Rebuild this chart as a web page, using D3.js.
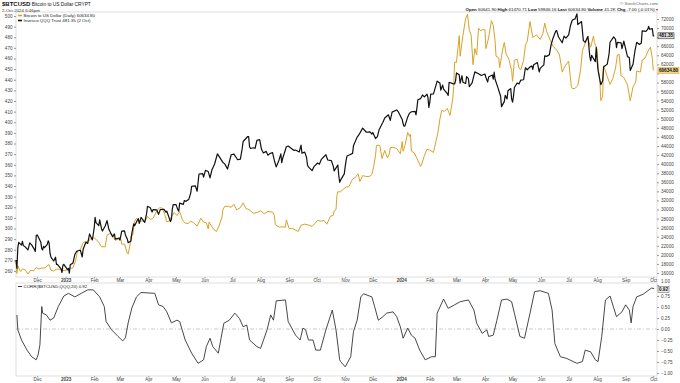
<!DOCTYPE html>
<html>
<head>
<meta charset="utf-8">
<style>
  body { margin: 0; background: #fff; }
  svg text { font-family: "Liberation Sans", Arial, sans-serif; }
  .axis .domain { display: none; }
  .axis line { stroke: #999; }
  .axis text { fill: #444; font-size: 4.6px; }
</style>
</head>
<body>
<svg width="680" height="383"></svg>
<script src="https://d3js.org/d3.v7.min.js"></script>
<script>
  // Bitcoin (gold, right scale) daily closes
  var btcData = [
    ["2022-11-08",18540],["2022-11-09",15880],["2022-11-10",17590],["2022-11-11",17030],["2022-11-13",16330],["2022-11-15",16900],["2022-11-18",16700],["2022-11-21",15780],["2022-11-24",16600],["2022-11-27",16460],["2022-11-30",17165],["2022-12-03",16890],["2022-12-06",17090],["2022-12-10",17130],["2022-12-13",17780],["2022-12-14",17810],["2022-12-16",16630],["2022-12-19",16440],["2022-12-22",16830],["2022-12-25",16840],["2022-12-28",16550],["2022-12-31",16540],
    ["2023-01-03",16680],["2023-01-06",16950],["2023-01-09",17190],["2023-01-12",18870],["2023-01-14",20950],["2023-01-17",21140],["2023-01-20",22700],["2023-01-23",22930],["2023-01-26",23060],["2023-01-29",23740],["2023-02-01",23730],["2023-02-03",23430],["2023-02-06",22760],["2023-02-09",21800],["2023-02-13",21780],["2023-02-15",24330],["2023-02-18",24640],["2023-02-21",24440],["2023-02-24",23170],["2023-02-27",23490],["2023-03-02",23470],["2023-03-03",22360],["2023-03-06",22410],["2023-03-09",20360],["2023-03-10",20190],["2023-03-12",22160],["2023-03-13",24200],["2023-03-15",24380],["2023-03-17",27400],["2023-03-19",28040],["2023-03-22",27280],["2023-03-25",27490],["2023-03-28",27270],["2023-03-31",28480],["2023-04-03",27800],["2023-04-06",28030],["2023-04-10",29650],["2023-04-13",30400],["2023-04-16",30320],["2023-04-19",28820],["2023-04-21",27270],["2023-04-24",27520],["2023-04-26",28420],["2023-04-29",29340],["2023-05-02",28680],["2023-05-05",29540],["2023-05-08",27700],["2023-05-11",26990],["2023-05-14",26920],["2023-05-17",27400],["2023-05-20",27120],["2023-05-24",26330],["2023-05-28",28070],["2023-05-31",27220],["2023-06-03",27070],["2023-06-05",25750],["2023-06-06",27240],["2023-06-10",25840],["2023-06-14",25120],["2023-06-17",26510],["2023-06-20",28310],["2023-06-21",30000],["2023-06-23",30690],["2023-06-27",30690],["2023-06-30",30480],["2023-07-03",31150],["2023-07-06",29910],["2023-07-10",30410],["2023-07-13",31470],["2023-07-16",30250],["2023-07-20",29900],["2023-07-24",29180],["2023-07-28",29320],["2023-08-01",29700],["2023-08-05",29050],["2023-08-09",29570],["2023-08-14",29410],["2023-08-16",28700],["2023-08-17",26660],["2023-08-21",26130],["2023-08-25",26170],["2023-08-28",26100],["2023-08-29",27720],["2023-09-01",25800],["2023-09-05",25780],["2023-09-11",25160],["2023-09-14",26530],["2023-09-18",26760],["2023-09-22",26580],["2023-09-26",26300],["2023-09-29",26910],["2023-10-02",27600],["2023-10-05",27430],["2023-10-09",27590],["2023-10-12",26760],["2023-10-16",28520],["2023-10-19",28710],["2023-10-20",29680],["2023-10-22",29990],["2023-10-23",33090],["2023-10-24",33900],["2023-10-27",33910],["2023-10-30",34500],["2023-11-02",34940],["2023-11-05",35040],["2023-11-09",36700],["2023-11-12",37060],["2023-11-15",37880],["2023-11-17",36160],["2023-11-20",37480],["2023-11-23",37300],["2023-11-27",37250],["2023-11-30",37720],["2023-12-02",39460],["2023-12-04",41980],["2023-12-05",44100],["2023-12-08",44200],["2023-12-09",43780],["2023-12-11",41250],["2023-12-14",43030],["2023-12-17",41370],["2023-12-19",42260],["2023-12-20",43650],["2023-12-23",43720],["2023-12-27",43440],["2023-12-31",42270],
    ["2024-01-02",44980],["2024-01-03",42850],["2024-01-05",44150],["2024-01-08",46970],["2024-01-10",46110],["2024-01-11",46630],["2024-01-12",42850],["2024-01-15",42510],["2024-01-18",41280],["2024-01-22",39510],["2024-01-23",39850],["2024-01-26",41820],["2024-01-29",43300],["2024-02-01",43080],["2024-02-05",42580],["2024-02-08",45300],["2024-02-10",47130],["2024-02-12",49960],["2024-02-14",51840],["2024-02-17",51650],["2024-02-20",52280],["2024-02-23",50730],["2024-02-26",54520],["2024-02-27",57050],["2024-02-28",62500],["2024-03-01",62440],["2024-03-04",68330],["2024-03-05",63800],["2024-03-08",68300],["2024-03-11",72120],["2024-03-13",73080],["2024-03-15",69500],["2024-03-17",68390],["2024-03-19",61930],["2024-03-21",65490],["2024-03-23",64050],["2024-03-25",69960],["2024-03-27",69460],["2024-03-30",69650],["2024-04-01",69650],["2024-04-02",65470],["2024-04-05",67840],["2024-04-08",71630],["2024-04-10",70600],["2024-04-12",67170],["2024-04-13",63820],["2024-04-16",63430],["2024-04-17",61280],["2024-04-20",64940],["2024-04-22",66840],["2024-04-24",64290],["2024-04-27",63120],["2024-04-30",60650],["2024-05-01",58250],["2024-05-03",62900],["2024-05-06",63100],["2024-05-08",61200],["2024-05-10",60800],["2024-05-13",62900],["2024-05-15",66270],["2024-05-17",67050],["2024-05-20",71430],["2024-05-23",67930],["2024-05-27",68500],["2024-05-31",67500],["2024-06-03",68800],["2024-06-05",71100],["2024-06-07",69300],["2024-06-11",67300],["2024-06-14",66000],["2024-06-18",65150],["2024-06-21",64100],["2024-06-24",60280],["2024-06-27",61600],["2024-07-01",62700],["2024-07-04",57000],["2024-07-05",56660],["2024-07-08",56700],["2024-07-11",57340],["2024-07-14",60780],["2024-07-16",65050],["2024-07-20",67140],["2024-07-22",67580],["2024-07-25",65800],["2024-07-28",68250],["2024-07-29",66800],["2024-08-01",65350],["2024-08-02",61500],["2024-08-04",58100],["2024-08-05",54000],["2024-08-07",55000],["2024-08-08",61700],["2024-08-12",59350],["2024-08-15",57560],["2024-08-18",58900],["2024-08-21",61170],["2024-08-23",64060],["2024-08-25",64200],["2024-08-27",59500],["2024-08-30",59100],["2024-09-03",57480],["2024-09-06",53950],["2024-09-09",57020],["2024-09-12",58130],["2024-09-13",60540],["2024-09-17",60300],["2024-09-19",62950],["2024-09-22",63350],["2024-09-26",65180],["2024-09-28",65800],["2024-09-30",63330],["2024-10-01",60800],["2024-10-02",60635]
  ];

  // Invesco QQQ Trust (black, left scale)
  var qqqData = [
    ["2022-11-08",270.4],["2022-11-09",262.6],["2022-11-10",282.0],["2022-11-11",287.0],["2022-11-14",284.3],["2022-11-15",288.0],["2022-11-16",283.9],["2022-11-18",282.7],["2022-11-21",279.9],["2022-11-23",286.5],["2022-11-25",284.6],["2022-11-28",280.3],["2022-11-29",278.4],["2022-11-30",293.4],["2022-12-01",294.0],["2022-12-02",292.5],["2022-12-05",287.0],["2022-12-06",281.1],["2022-12-07",279.8],["2022-12-08",283.2],["2022-12-09",281.9],["2022-12-12",285.0],["2022-12-13",288.4],["2022-12-14",286.3],["2022-12-15",276.7],["2022-12-16",273.0],["2022-12-19",269.4],["2022-12-21",273.0],["2022-12-22",266.1],["2022-12-23",266.3],["2022-12-27",262.0],["2022-12-28",258.6],["2022-12-29",265.4],["2022-12-30",266.3],
    ["2023-01-03",261.3],["2023-01-04",262.5],["2023-01-05",258.0],["2023-01-06",265.8],["2023-01-09",267.6],["2023-01-11",275.6],["2023-01-13",278.6],["2023-01-17",279.5],["2023-01-19",273.2],["2023-01-20",280.4],["2023-01-23",287.0],["2023-01-25",286.0],["2023-01-27",294.9],["2023-01-30",289.2],["2023-01-31",294.6],["2023-02-01",300.3],["2023-02-02",310.6],["2023-02-03",305.6],["2023-02-06",302.7],["2023-02-07",308.2],["2023-02-09",299.8],["2023-02-10",297.6],["2023-02-13",302.3],["2023-02-15",307.4],["2023-02-17",299.2],["2023-02-21",292.2],["2023-02-23",294.9],["2023-02-24",290.0],["2023-02-28",291.1],["2023-03-01",289.1],["2023-03-03",297.5],["2023-03-06",297.8],["2023-03-07",293.9],["2023-03-09",290.2],["2023-03-10",286.6],["2023-03-13",288.2],["2023-03-14",295.6],["2023-03-16",304.4],["2023-03-17",302.6],["2023-03-21",309.4],["2023-03-22",304.7],["2023-03-24",310.4],["2023-03-28",305.8],["2023-03-30",314.0],["2023-03-31",320.9],["2023-04-03",319.6],["2023-04-05",315.5],["2023-04-06",317.7],["2023-04-10",317.6],["2023-04-12",313.3],["2023-04-14",317.9],["2023-04-18",318.0],["2023-04-20",315.4],["2023-04-21",316.3],["2023-04-25",306.5],["2023-04-26",308.6],["2023-04-27",318.3],["2023-04-28",322.6],["2023-05-01",322.5],["2023-05-03",317.8],["2023-05-04",316.3],["2023-05-05",323.9],["2023-05-09",322.7],["2023-05-10",326.3],["2023-05-12",325.6],["2023-05-15",327.6],["2023-05-17",333.3],["2023-05-18",339.7],["2023-05-22",340.2],["2023-05-24",335.1],["2023-05-26",351.3],["2023-05-30",351.6],["2023-05-31",348.4],["2023-06-02",354.7],["2023-06-05",353.7],["2023-06-07",347.6],["2023-06-09",355.0],["2023-06-12",360.7],["2023-06-15",370.2],["2023-06-16",369.0],["2023-06-21",362.2],["2023-06-23",360.8],["2023-06-26",356.0],["2023-06-28",362.7],["2023-06-30",369.4],["2023-07-03",370.0],["2023-07-06",366.1],["2023-07-07",364.7],["2023-07-10",365.3],["2023-07-12",375.3],["2023-07-13",381.9],["2023-07-18",386.6],["2023-07-19",386.5],["2023-07-20",377.0],["2023-07-21",375.3],["2023-07-24",376.0],["2023-07-26",375.5],["2023-07-28",383.0],["2023-07-31",383.7],["2023-08-02",374.5],["2023-08-04",371.1],["2023-08-07",372.6],["2023-08-09",369.0],["2023-08-11",370.5],["2023-08-14",371.5],["2023-08-16",363.8],["2023-08-18",358.0],["2023-08-21",364.3],["2023-08-23",370.3],["2023-08-24",362.0],["2023-08-25",365.9],["2023-08-29",376.9],["2023-08-31",377.6],["2023-09-06",373.6],["2023-09-08",373.8],["2023-09-12",372.0],["2023-09-14",378.4],["2023-09-15",371.0],["2023-09-18",371.9],["2023-09-20",366.8],["2023-09-21",359.7],["2023-09-22",358.0],["2023-09-26",354.4],["2023-09-28",358.2],["2023-10-02",361.6],["2023-10-04",360.6],["2023-10-06",365.0],["2023-10-11",369.4],["2023-10-13",364.5],["2023-10-17",363.8],["2023-10-19",358.7],["2023-10-20",354.2],["2023-10-24",359.7],["2023-10-25",350.0],["2023-10-26",343.5],["2023-10-27",345.5],["2023-10-31",351.4],["2023-11-01",358.2],["2023-11-02",364.1],["2023-11-03",368.3],["2023-11-06",369.4],["2023-11-09",370.7],["2023-11-10",377.8],["2023-11-14",386.0],["2023-11-16",388.3],["2023-11-20",394.5],["2023-11-24",390.6],["2023-11-28",391.0],["2023-11-30",388.8],["2023-12-01",390.4],["2023-12-04",384.6],["2023-12-06",386.4],["2023-12-08",393.2],["2023-12-12",400.0],["2023-12-14",404.0],["2023-12-18",407.0],["2023-12-20",401.8],["2023-12-22",409.5],["2023-12-27",411.6],["2023-12-29",409.5],
    ["2024-01-02",402.6],["2024-01-03",398.5],["2024-01-04",396.3],["2024-01-05",396.6],["2024-01-08",405.0],["2024-01-10",408.6],["2024-01-12",409.9],["2024-01-16",410.2],["2024-01-17",407.0],["2024-01-18",413.6],["2024-01-19",421.2],["2024-01-22",422.2],["2024-01-24",425.7],["2024-01-26",423.8],["2024-01-29",426.5],["2024-01-30",423.2],["2024-01-31",414.0],["2024-02-01",419.0],["2024-02-02",426.5],["2024-02-05",426.7],["2024-02-07",432.6],["2024-02-09",438.7],["2024-02-12",437.0],["2024-02-13",430.2],["2024-02-15",435.0],["2024-02-16",431.2],["2024-02-20",427.0],["2024-02-21",425.3],["2024-02-22",437.6],["2024-02-26",436.3],["2024-02-28",436.0],["2024-02-29",439.0],["2024-03-01",446.4],["2024-03-04",444.6],["2024-03-05",436.8],["2024-03-07",443.8],["2024-03-08",437.7],["2024-03-11",436.5],["2024-03-12",442.9],["2024-03-14",441.0],["2024-03-15",433.4],["2024-03-18",437.0],["2024-03-20",444.1],["2024-03-21",447.4],["2024-03-25",445.6],["2024-03-28",444.0],["2024-04-01",445.4],["2024-04-02",442.1],["2024-04-04",437.9],["2024-04-05",442.6],["2024-04-09",444.5],["2024-04-10",440.5],["2024-04-11",447.1],["2024-04-12",440.5],["2024-04-15",432.8],["2024-04-17",427.3],["2024-04-18",424.7],["2024-04-19",414.7],["2024-04-22",419.4],["2024-04-23",425.3],["2024-04-25",422.0],["2024-04-26",429.7],["2024-04-29",431.7],["2024-04-30",422.0],["2024-05-01",418.9],["2024-05-02",424.4],["2024-05-03",432.7],["2024-05-06",437.0],["2024-05-08",436.0],["2024-05-10",439.7],["2024-05-13",440.0],["2024-05-15",451.3],["2024-05-17",449.4],["2024-05-20",452.1],["2024-05-22",453.0],["2024-05-23",449.8],["2024-05-24",454.2],["2024-05-28",456.2],["2024-05-30",447.3],["2024-05-31",450.7],["2024-06-04",454.0],["2024-06-05",462.6],["2024-06-07",462.0],["2024-06-10",463.5],["2024-06-12",473.2],["2024-06-14",479.1],["2024-06-17",485.8],["2024-06-18",486.2],["2024-06-20",480.2],["2024-06-24",474.8],["2024-06-26",481.0],["2024-06-28",479.1],["2024-07-01",482.3],["2024-07-03",491.0],["2024-07-05",496.2],["2024-07-08",497.3],["2024-07-10",502.0],["2024-07-11",491.9],["2024-07-15",494.8],["2024-07-17",476.8],["2024-07-19",475.2],["2024-07-22",480.9],["2024-07-24",462.0],["2024-07-25",457.7],["2024-07-26",462.9],["2024-07-30",457.0],["2024-07-31",470.4],["2024-08-01",458.5],["2024-08-02",448.8],["2024-08-05",435.3],["2024-08-07",439.0],["2024-08-08",452.0],["2024-08-12",454.7],["2024-08-14",464.6],["2024-08-15",475.3],["2024-08-19",480.3],["2024-08-21",478.0],["2024-08-22",470.3],["2024-08-23",475.2],["2024-08-27",474.8],["2024-08-28",469.2],["2024-08-30",476.3],["2024-09-03",461.8],["2024-09-05",461.0],["2024-09-06",448.7],["2024-09-09",454.6],["2024-09-11",466.6],["2024-09-13",475.3],["2024-09-16",473.2],["2024-09-18",474.5],["2024-09-19",486.0],["2024-09-23",485.5],["2024-09-25",487.4],["2024-09-26",490.3],["2024-09-27",487.5],["2024-09-30",488.1],["2024-10-01",481.3],["2024-10-02",481.35]
  ];

  // CORR($BTCUSD,QQQ,20)
  var corrData = [
    ["2022-11-09",0.32],["2022-11-10",-0.02],["2022-11-14",-0.25],["2022-11-20",-0.48],["2022-11-25",-0.63],["2022-11-30",-0.70],["2022-12-02",-0.59],["2022-12-04",-0.36],["2022-12-06",0.51],["2022-12-07",0.36],["2022-12-11",0.32],["2022-12-15",0.20],["2022-12-19",0.25],["2022-12-24",0.51],["2022-12-30",0.75],
    ["2023-01-04",0.81],["2023-01-11",0.73],["2023-01-18",0.81],["2023-01-25",0.89],["2023-01-31",0.89],["2023-02-07",0.73],["2023-02-12",0.51],["2023-02-14",0.17],["2023-02-20",-0.02],["2023-02-27",-0.17],["2023-03-04",-0.27],["2023-03-07",-0.20],["2023-03-10",0.14],["2023-03-14",0.48],["2023-03-19",0.73],["2023-03-24",0.83],["2023-04-08",0.81],["2023-04-12",0.55],["2023-04-17",0.51],["2023-04-21",0.39],["2023-04-26",0.14],["2023-05-02",0.20],["2023-05-05",0.17],["2023-05-11",-0.25],["2023-05-18",-0.55],["2023-05-25",-0.78],["2023-05-31",-0.70],["2023-06-03",-0.40],["2023-06-07",-0.21],["2023-06-10",-0.40],["2023-06-16",-0.55],["2023-06-19",-0.21],["2023-06-22",0.13],["2023-06-28",0.20],["2023-07-04",0.36],["2023-07-09",0.24],["2023-07-13",0.05],["2023-07-17",0.09],["2023-07-20",-0.25],["2023-07-28",-0.40],["2023-08-01",-0.44],["2023-08-08",-0.02],["2023-08-12",0.32],["2023-08-15",0.20],["2023-08-18",0.64],["2023-08-28",0.66],["2023-08-31",0.17],["2023-09-08",-0.14],["2023-09-13",-0.25],["2023-09-16",0.02],["2023-09-19",-0.02],["2023-09-22",-0.25],["2023-09-27",-0.25],["2023-09-30",-0.48],["2023-10-05",-0.48],["2023-10-11",-0.02],["2023-10-18",0.43],["2023-10-22",-0.02],["2023-10-26",-0.70],["2023-10-27",-0.74],["2023-11-01",-0.86],["2023-11-07",-0.63],["2023-11-10",-0.06],["2023-11-14",0.20],["2023-11-18",0.73],["2023-11-21",0.80],["2023-11-30",0.73],["2023-12-03",0.51],["2023-12-07",0.20],["2023-12-12",0.28],["2023-12-16",0.36],["2023-12-23",0.39],["2023-12-27",0.28],["2023-12-31",0.05],
    ["2024-01-03",-0.21],["2024-01-08",0.02],["2024-01-12",-0.14],["2024-01-16",-0.21],["2024-01-21",-0.48],["2024-01-27",-0.70],["2024-02-03",-0.63],["2024-02-07",-0.63],["2024-02-09",0.36],["2024-02-16",0.68],["2024-02-21",0.47],["2024-02-28",0.55],["2024-03-05",0.62],["2024-03-14",0.66],["2024-03-20",0.43],["2024-03-23",0.13],["2024-03-29",-0.10],["2024-04-03",-0.02],["2024-04-05",-0.17],["2024-04-10",-0.14],["2024-04-14",0.20],["2024-04-19",0.66],["2024-04-25",0.68],["2024-04-30",0.62],["2024-05-03",0.36],["2024-05-09",-0.17],["2024-05-14",-0.21],["2024-05-20",0.36],["2024-05-25",0.85],["2024-05-31",0.87],["2024-06-09",0.81],["2024-06-13",0.43],["2024-06-16",-0.33],["2024-06-22",-0.63],["2024-06-29",-0.67],["2024-07-10",-0.78],["2024-07-16",-0.74],["2024-07-19",-0.48],["2024-07-25",-0.52],["2024-07-30",-0.70],["2024-08-02",-0.74],["2024-08-06",-0.17],["2024-08-10",0.66],["2024-08-15",0.75],["2024-08-22",0.28],["2024-08-28",0.39],["2024-09-01",0.55],["2024-09-05",0.43],["2024-09-07",0.14],["2024-09-09",0.51],["2024-09-13",0.73],["2024-09-20",0.79],["2024-09-29",0.93],["2024-10-02",0.92]
  ];

  // axis ticks
  var monthTicks = ["2022-12-01","2023-01-01","2023-02-01","2023-03-01","2023-04-01","2023-05-01","2023-06-01","2023-07-01","2023-08-01","2023-09-01","2023-10-01","2023-11-01","2023-12-01","2024-01-01","2024-02-01","2024-03-01","2024-04-01","2024-05-01","2024-06-01","2024-07-01","2024-08-01","2024-09-01","2024-10-01"];
  var qqqTicks = d3.range(260, 501, 10);
  var btcTicks = d3.range(16000, 72001, 2000);
  var corrTicks = [-1, -0.75, -0.5, -0.25, 0, 0.25, 0.5, 0.75, 1];

  var lastBtc = "60634.80", lastQqq = "481.35", lastCorr = "0.92";

  var parse = d3.timeParse("%Y-%m-%d");
  var svg = d3.select("svg");

  // layout
  var left = 16, right = 657,
      mainTop = 12, mainBottom = 277,
      lowTop = 283, lowBottom = 376;

  var x = d3.scaleTime()
    .domain([parse("2022-11-08"), parse("2024-10-04")])
    .range([left, right - 1]);
  var yQ = d3.scaleLinear().domain([260, 500]).range([271, 16]);
  var yB = d3.scaleLinear().domain([16000, 72000]).range([273, 19]);
  var yC = d3.scaleLinear().domain([-1, 1]).range([373, 285]);

  var gold = "#d9a22a";

  // panel frames
  svg.append("rect").attr("x", left).attr("y", mainTop)
    .attr("width", right - left).attr("height", mainBottom - mainTop)
    .attr("fill", "none").attr("stroke", "#c8c8c8").attr("stroke-width", 0.6);
  svg.append("rect").attr("x", left).attr("y", lowTop)
    .attr("width", right - left).attr("height", lowBottom - lowTop)
    .attr("fill", "none").attr("stroke", "#c8c8c8").attr("stroke-width", 0.6);

  // header
  var head = svg.append("text").attr("x", 2).attr("y", 6).attr("font-size", 4.8).attr("fill", "#111");
  head.append("tspan").attr("font-weight", "bold").attr("font-size", 6).text("$BTCUSD");
  head.append("tspan").text(" Bitcoin to US Dollar  CRYPT");
  svg.append("text").attr("x", 2).attr("y", 11.5).attr("font-size", 4.4).attr("fill", "#333")
    .text("2-Oct-2024 6:46pm");
  svg.append("text").attr("x", 658).attr("y", 4.5).attr("font-size", 4.4).attr("fill", "#666")
    .attr("text-anchor", "end").text("© StockCharts.com");

  var quote = [["Open", "60641.90"], ["High", "61470.71"], ["Low", "59846.16"], ["Last", "60634.80"], ["Volume", "41.2K"], ["Chg", "-7.00 (-0.01%)"]];
  var qt = svg.append("text").attr("x", 658).attr("y", 10.5).attr("font-size", 4.4)
    .attr("fill", "#111").attr("text-anchor", "end");
  quote.forEach(function(q, i) {
    qt.append("tspan").attr("font-weight", "bold").text((i ? "  " : "") + q[0] + " ");
    qt.append("tspan").text(q[1]);
  });
  qt.append("tspan").attr("fill", "#c00").text(" \u25BE");

  // axes
  svg.append("g").attr("class", "axis")
    .attr("transform", "translate(" + left + ",0)")
    .call(d3.axisLeft(yQ).tickValues(qqqTicks).tickSize(2).tickPadding(1.5));

  // price tags sit over the right-hand tick labels, so drop the labels they cover
  var tagYs = [yQ(+lastQqq), yB(+lastBtc)];
  var btcAxis = svg.append("g").attr("class", "axis")
    .attr("transform", "translate(" + right + ",0)")
    .call(d3.axisRight(yB).tickValues(btcTicks).tickSize(2).tickPadding(2).tickFormat(d3.format("d")));
  btcAxis.selectAll(".tick text").filter(function(d) {
    return tagYs.some(function(t) { return Math.abs(yB(d) - t) < 5; });
  }).remove();

  var corrAxis = svg.append("g").attr("class", "axis")
    .attr("transform", "translate(" + right + ",0)")
    .call(d3.axisRight(yC).tickValues(corrTicks).tickSize(2).tickPadding(2).tickFormat(d3.format(".2f")));
  corrAxis.selectAll(".tick text").filter(function(d) { return d === 1; }).attr("dy", "-0.6em");

  function monthLabel(d) {
    return d.getMonth() === 0 ? d3.timeFormat("%Y")(d) : d3.timeFormat("%b")(d);
  }
  [mainBottom, lowBottom].forEach(function(yy) {
    var ax = svg.append("g").attr("class", "axis")
      .attr("transform", "translate(0," + yy + ")")
      .call(d3.axisBottom(x).tickValues(monthTicks.map(parse)).tickSize(1.5).tickPadding(0.5).tickFormat(monthLabel));
    ax.selectAll("text").attr("font-weight", function(d) { return d.getMonth() === 0 ? "bold" : null; })
      .attr("fill", function(d) { return d.getMonth() === 0 ? "#111" : "#444"; });
  });

  // zero line in correlation panel
  svg.append("line")
    .attr("x1", left).attr("x2", right)
    .attr("y1", yC(0)).attr("y2", yC(0))
    .attr("stroke", "#aaa").attr("stroke-width", 0.6)
    .attr("stroke-dasharray", "4,2,1,2");

  // price lines
  var btcLine = d3.line().x(function(d) { return x(parse(d[0])); }).y(function(d) { return yB(d[1]); });
  var qqqLine = d3.line().x(function(d) { return x(parse(d[0])); }).y(function(d) { return yQ(d[1]); });
  var corrLine = d3.line().x(function(d) { return x(parse(d[0])); }).y(function(d) { return yC(d[1]); });

  svg.append("path").datum(btcData).attr("d", btcLine)
    .attr("fill", "none").attr("stroke", gold).attr("stroke-width", 1).attr("stroke-linejoin", "round");
  svg.append("path").datum(qqqData).attr("d", qqqLine)
    .attr("fill", "none").attr("stroke", "#111").attr("stroke-width", 1.2).attr("stroke-linejoin", "round");
  svg.append("path").datum(corrData).attr("d", corrLine)
    .attr("fill", "none").attr("stroke", "#333").attr("stroke-width", 0.9).attr("stroke-linejoin", "round");

  // legends
  function legend(y, color, txt, w) {
    svg.append("line").attr("x1", 18).attr("x2", 22).attr("y1", y - 1.5).attr("y2", y - 1.5)
      .attr("stroke", color).attr("stroke-width", w);
    svg.append("text").attr("x", 23.5).attr("y", y).attr("font-size", 4.4).attr("fill", "#222").text(txt);
  }
  legend(17, gold, "Bitcoin to US Dollar (Daily) " + lastBtc, 1.6);
  legend(22, "#111", "Invesco QQQ Trust " + lastQqq + " (2 Oct)", 1.6);
  legend(288, "#333", "CORR($BTCUSD,QQQ,20) " + lastCorr, 1);

  // last value tags on the right
  function tag(yy, txt, fill, stroke, w) {
    svg.append("rect").attr("x", right + 1).attr("y", yy - 3).attr("width", w).attr("height", 6)
      .attr("fill", fill).attr("stroke", stroke).attr("stroke-width", 0.5);
    svg.append("text").attr("x", right + 2).attr("y", yy + 1.6).attr("font-size", 4.6)
      .attr("font-weight", "bold").attr("fill", "#111").text(txt);
  }
  tag(yQ(+lastQqq), lastQqq, "#ddd", "#111", 16);
  tag(yB(+lastBtc), lastBtc, "#f2d48a", gold, 21);
  tag(yC(+lastCorr) + 1, lastCorr, "#eee", "#555", 11);
</script>
</body>
</html>
